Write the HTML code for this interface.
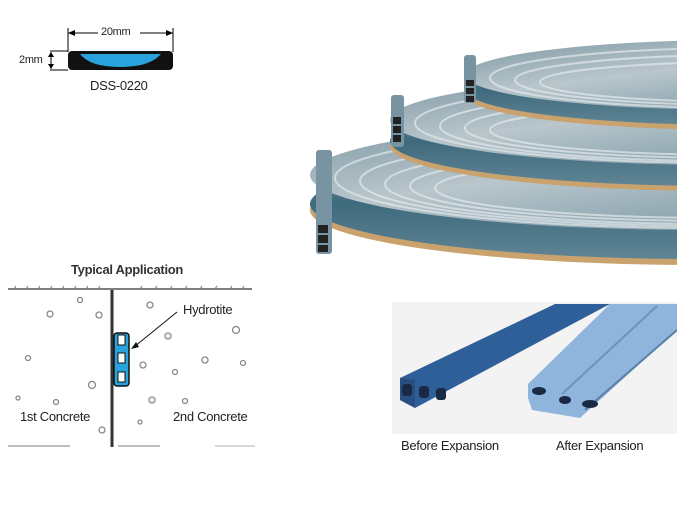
<!DOCTYPE html>
<html><head><meta charset="utf-8"><style>
html,body{margin:0;padding:0;background:#fff;}
body{width:677px;height:525px;position:relative;overflow:hidden;font-family:"Liberation Sans",sans-serif;}
.t{position:absolute;color:#222;white-space:nowrap;letter-spacing:-0.3px;}
</style></head><body>
<svg width="677" height="525" style="position:absolute;left:0;top:0">
<defs>
<linearGradient id="side" x1="0" y1="0" x2="0" y2="1">
<stop offset="0" stop-color="#6f93a4"/><stop offset="0.5" stop-color="#3f6a7d"/><stop offset="1" stop-color="#5f8595"/>
</linearGradient>
<linearGradient id="face" x1="0" y1="0" x2="1" y2="1">
<stop offset="0" stop-color="#7d97a3"/><stop offset="0.4" stop-color="#b9c6cc"/><stop offset="1" stop-color="#5f8494"/>
</linearGradient>
</defs>
<!-- DSS-0220 -->
<line x1="68" y1="33" x2="173" y2="33" stroke="#000" stroke-width="1"/>
<polygon points="68,33 75,30 75,36" fill="#000"/><polygon points="173,33 166,30 166,36" fill="#000"/>
<line x1="68" y1="28" x2="68" y2="52" stroke="#000"/><line x1="173" y1="28" x2="173" y2="52" stroke="#000"/>
<rect x="98" y="27" width="42" height="12" fill="#fff"/>
<line x1="50" y1="51" x2="68" y2="51" stroke="#000"/><line x1="50" y1="70" x2="68" y2="70" stroke="#000"/>
<line x1="51" y1="52" x2="51" y2="69" stroke="#000"/>
<polygon points="51,52 48,57 54,57" fill="#000"/><polygon points="51,69 48,64 54,64" fill="#000"/>
<rect x="68" y="51" width="105" height="19" rx="4" fill="#111"/>
<path d="M80,54 L161,54 Q150,67 120,67 Q90,67 80,54 Z" fill="#2aa3dd"/>

<!-- coil 3 (bottom) -->
<ellipse cx="700" cy="210" rx="390" ry="55" fill="#c9a26e"/>
<ellipse cx="700" cy="204" rx="390" ry="55" fill="url(#side)"/>
<ellipse cx="700" cy="175" rx="390" ry="55" fill="url(#face)"/>
<g fill="none" stroke="#e4eaec" stroke-width="2" opacity="0.7">
<ellipse cx="705" cy="178" rx="370" ry="50"/><ellipse cx="710" cy="181" rx="350" ry="45"/><ellipse cx="715" cy="184" rx="330" ry="40"/><ellipse cx="720" cy="186" rx="310" ry="35"/><ellipse cx="725" cy="188" rx="290" ry="30"/>
</g>
<!-- coil 2 -->
<ellipse cx="720" cy="146" rx="330" ry="45" fill="#c9a26e"/>
<ellipse cx="720" cy="141" rx="330" ry="45" fill="url(#side)"/>
<ellipse cx="720" cy="120" rx="330" ry="45" fill="url(#face)"/>
<g fill="none" stroke="#e4eaec" stroke-width="2" opacity="0.7">
<ellipse cx="725" cy="123" rx="310" ry="40"/><ellipse cx="730" cy="126" rx="290" ry="35"/><ellipse cx="735" cy="128" rx="270" ry="30"/><ellipse cx="740" cy="130" rx="250" ry="25"/>
</g>
<!-- coil 1 -->
<ellipse cx="740" cy="95" rx="275" ry="35" fill="#c9a26e"/>
<ellipse cx="740" cy="90" rx="275" ry="35" fill="url(#side)"/>
<ellipse cx="740" cy="75" rx="275" ry="35" fill="url(#face)"/>
<g fill="none" stroke="#e4eaec" stroke-width="2" opacity="0.7">
<ellipse cx="745" cy="78" rx="255" ry="30"/><ellipse cx="750" cy="80" rx="235" ry="25"/><ellipse cx="755" cy="82" rx="215" ry="20"/>
</g>
<!-- standing tape ends -->
<rect x="316" y="150" width="16" height="104" rx="3" fill="#7894a2"/>
<rect x="318" y="225" width="10" height="8" fill="#222"/><rect x="318" y="235" width="10" height="8" fill="#222"/><rect x="318" y="245" width="10" height="7" fill="#222"/>
<rect x="391" y="95" width="13" height="52" rx="3" fill="#7894a2"/>
<rect x="393" y="117" width="8" height="7" fill="#222"/><rect x="393" y="126" width="8" height="7" fill="#222"/><rect x="393" y="135" width="8" height="7" fill="#222"/>
<rect x="464" y="55" width="12" height="48" rx="3" fill="#7894a2"/>
<rect x="466" y="80" width="8" height="6" fill="#222"/><rect x="466" y="88" width="8" height="6" fill="#222"/><rect x="466" y="96" width="8" height="6" fill="#222"/>

<!-- typical application -->
<line x1="8" y1="289" x2="252" y2="289" stroke="#555" stroke-width="1.5"/>
<g stroke="#777" stroke-width="1">
<path d="M14,289 l2,-3 M26,289 l2,-3 M38,289 l2,-3 M50,289 l2,-3 M62,289 l2,-3 M74,289 l2,-3 M86,289 l2,-3 M98,289 l2,-3 M140,289 l2,-3 M155,289 l2,-3 M170,289 l2,-3 M185,289 l2,-3 M200,289 l2,-3 M215,289 l2,-3 M230,289 l2,-3 M242,289 l2,-3"/>
</g>
<line x1="112" y1="290" x2="112" y2="447" stroke="#333" stroke-width="3"/>
<line x1="8" y1="446" x2="70" y2="446" stroke="#aaa" stroke-width="1.5"/>
<line x1="118" y1="446" x2="160" y2="446" stroke="#aaa" stroke-width="1.5"/>
<line x1="215" y1="446" x2="255" y2="446" stroke="#ccc" stroke-width="1.5"/>
<g fill="none" stroke="#888" stroke-width="1.3">
<circle cx="50" cy="314" r="3"/><circle cx="80" cy="300" r="2.5"/><circle cx="99" cy="315" r="3"/><circle cx="28" cy="358" r="2.5"/><circle cx="92" cy="385" r="3.5"/><circle cx="56" cy="402" r="2.5"/><circle cx="18" cy="398" r="2"/><circle cx="102" cy="430" r="3"/>
<circle cx="150" cy="305" r="3"/><circle cx="236" cy="330" r="3.5"/><circle cx="168" cy="336" r="3"/><circle cx="143" cy="365" r="3"/><circle cx="175" cy="372" r="2.5"/><circle cx="205" cy="360" r="3"/><circle cx="243" cy="363" r="2.5"/><circle cx="152" cy="400" r="3"/><circle cx="185" cy="401" r="2.5"/><circle cx="140" cy="422" r="2"/>
</g>
<rect x="114" y="333" width="15" height="53" rx="3" fill="#2aa3dd" stroke="#111" stroke-width="1.5"/>
<rect x="118" y="335" width="7" height="10" fill="#fff" stroke="#111"/><rect x="118" y="353" width="7" height="10" fill="#fff" stroke="#111"/><rect x="118" y="372" width="7" height="10" fill="#fff" stroke="#111"/>
<line x1="177" y1="312" x2="134" y2="347" stroke="#111" stroke-width="1"/>
<polygon points="131,349 136,342 139,347" fill="#111"/>

<!-- expansion photo -->
<rect x="392" y="302" width="285" height="132" fill="#f3f3f3"/>
<polygon points="400,378 555,304 610,304 415,408 400,400" fill="#2f5f98"/>
<polygon points="400,378 415,380 415,408 400,400" fill="#284f80"/>
<rect x="402" y="384" width="10" height="12" rx="3" fill="#1b2a44"/><rect x="419" y="386" width="10" height="12" rx="3" fill="#1b2a44"/><rect x="436" y="388" width="10" height="12" rx="3" fill="#1b2a44"/>
<polygon points="528,384 610,304 677,304 677,330 580,418 532,410 528,398" fill="#8fb5dc"/>
<line x1="562" y1="394" x2="657" y2="306" stroke="#6c93bf" stroke-width="2"/>
<line x1="585" y1="410" x2="677" y2="330" stroke="#5c7fa6" stroke-width="2"/>
<ellipse cx="539" cy="391" rx="7" ry="4" fill="#1b2a44"/><ellipse cx="565" cy="400" rx="6" ry="4" fill="#1b2a44"/><ellipse cx="590" cy="404" rx="8" ry="4" fill="#1b2a44"/>
</svg>

<div class="t" style="left:101px;top:26px;font-size:11px;">20mm</div>
<div class="t" style="left:19px;top:54px;font-size:11px;">2mm</div>
<div class="t" style="left:90px;top:78px;font-size:13px;">DSS-0220</div>
<div class="t" style="left:71px;top:262px;font-size:13px;font-weight:bold;color:#333;">Typical Application</div>
<div class="t" style="left:183px;top:302px;font-size:13px;">Hydrotite</div>
<div class="t" style="left:20px;top:409px;font-size:13px;">1st Concrete</div>
<div class="t" style="left:173px;top:409px;font-size:13px;">2nd Concrete</div>
<div class="t" style="left:401px;top:438px;font-size:13px;">Before Expansion</div>
<div class="t" style="left:556px;top:438px;font-size:13px;">After Expansion</div>
</body></html>
